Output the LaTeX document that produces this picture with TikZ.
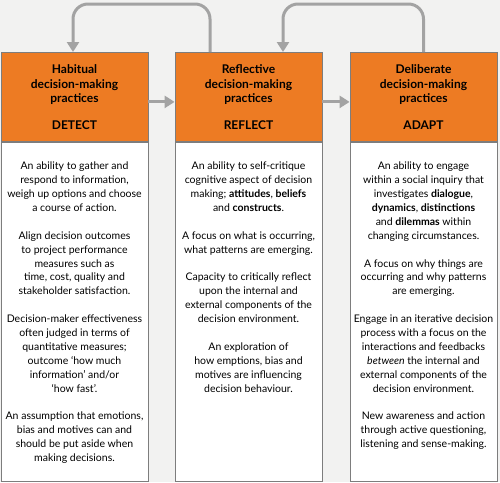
\documentclass[tikz,border=0pt]{standalone}
\usepackage{fontspec}
\setmainfont{Lato}
\usetikzlibrary{arrows.meta,positioning}
\definecolor{stageorange}{RGB}{237,123,35}
\definecolor{loopgray}{RGB}{163,163,163}
\definecolor{bggray}{RGB}{242,242,241}
\definecolor{framegray}{RGB}{125,125,125}

\begin{document}
\begin{tikzpicture}[x=1pt, y=-1pt, >={Triangle[length=10pt,width=12pt]},
  head/.style={draw=framegray, line width=0.8pt, fill=stageorange, minimum width=147pt,
    minimum height=89pt, inner sep=0pt, text width=140pt, align=center, anchor=north,
    font=\bfseries\fontsize{12}{14.5}\selectfont},
  body/.style={draw=framegray, line width=0.8pt, fill=white, minimum width=147pt,
    minimum height=339pt, inner sep=0pt},
  txt/.style={align=center, inner sep=0pt, font=\fontsize{10.5}{13.9}\selectfont},
  flow/.style={->, line width=3pt, loopgray, rounded corners=15pt}]
% Background
\fill[bggray] (0,0) rectangle (500,482);

% Stage headers
\node[head] (h1) at (74.5,52) {Habitual\\decision-making\\practices\\[12pt]DETECT};
\node[head] (h2) at (248.5,52) {Reflective\\decision-making\\practices\\[12pt]REFLECT};
\node[head] (h3) at (423.5,52) {Deliberate\\decision-making\\practices\\[12pt]ADAPT};

% Description panels
\node[body, below=0pt of h1] (b1) {};
\node[body, below=0pt of h2] (b2) {};
\node[body, below=0pt of h3] (b3) {};

\node[txt, below=20pt of b1.north] (t1) {An ability to gather and\\respond to information,\\weigh up options and choose\\a course of action.\\[13.9pt]
Align decision outcomes\\to project performance\\measures such as\\time, cost, quality and\\stakeholder satisfaction.\\[13.9pt]
Decision-maker effectiveness\\often judged in terms of\\quantitative measures;\\outcome `how much\\information' and/or\\`how fast'.\\[13.9pt]
An assumption that emotions,\\bias and motives can and\\should be put aside when\\making decisions.};

\node[txt, below=20pt of b2.north] (t2) {An ability to self-critique\\cognitive aspect of decision\\making; \textbf{attitudes}, \textbf{beliefs}\\and \textbf{constructs}.\\[13.9pt]
A focus on what is occurring,\\what patterns are emerging.\\[13.9pt]
Capacity to critically reflect\\upon the internal and\\external components of the\\decision environment.\\[13.9pt]
An exploration of\\how emptions, bias and\\motives are influencing\\decision behaviour.};

\node[txt, below=20pt of b3.north] (t3) {An ability to engage\\within a social inquiry that\\investigates \textbf{dialogue},\\\textbf{dynamics}, \textbf{distinctions}\\and \textbf{dilemmas} within\\changing circumstances.\\[13.9pt]
A focus on why things are\\occurring and why patterns\\are emerging.\\[13.9pt]
Engage in an iterative decision\\process with a focus on the\\interactions and feedbacks\\\emph{between} the internal and\\external components of the\\decision environment.\\[13.9pt]
New awareness and action\\through active questioning,\\listening and sense-making.};

% Forward arrows
\draw[flow] ([yshift=-5pt]h1.east) -- ([yshift=-5pt]h2.west);
\draw[flow] ([yshift=-5pt]h2.east) -- ([yshift=-5pt]h3.west);

% Feedback loops
\draw[flow] ([xshift=-38.5pt]h2.north) -- ++(0,-48) -| ([xshift=-1.5pt]h1.north);
\draw[flow] (h3.north) -- ++(0,-48) -| ([xshift=34.5pt]h2.north);
\end{tikzpicture}
\end{document}
